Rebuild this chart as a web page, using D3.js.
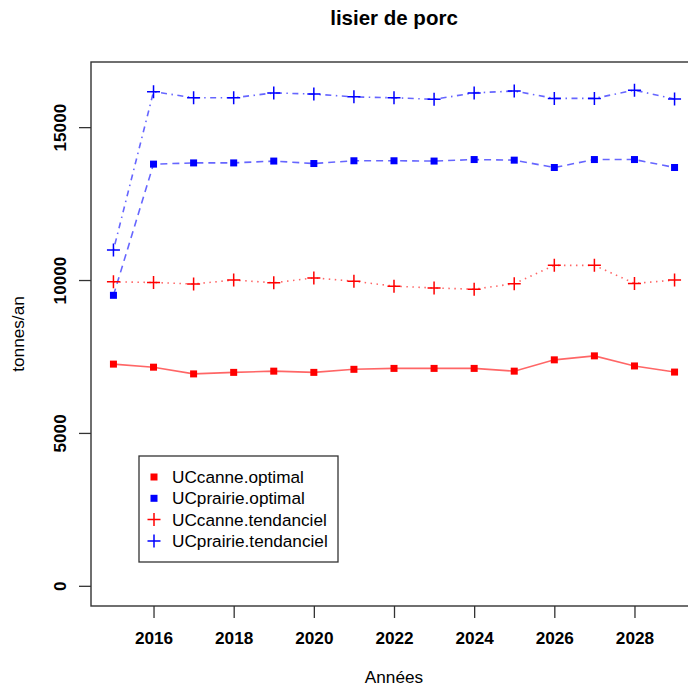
<!DOCTYPE html>
<html>
<head>
<meta charset="utf-8">
<script src="https://cdn.jsdelivr.net/npm/d3@7"></script>
<style>
  body { margin: 0; background: #fff; }
  svg { display: block; font-family: "Liberation Sans", Arial, sans-serif; }
</style>
</head>
<body>
<svg></svg>
<script>
var width = 688;
var height = 688;

// data
var years = [2015, 2016, 2017, 2018, 2019, 2020, 2021, 2022, 2023, 2024, 2025, 2026, 2027, 2028, 2029];
var canneOptimal = [7250, 7150, 6930, 6980, 7020, 6980, 7080, 7110, 7110, 7110, 7020, 7390, 7520, 7190, 6990];
var prairieOptimal = [9500, 13790, 13830, 13830, 13890, 13810, 13900, 13900, 13890, 13940, 13920, 13680, 13940, 13940, 13680];
var canneTendanciel = [9940, 9920, 9870, 10000, 9910, 10070, 9960, 9800, 9740, 9700, 9880, 10480, 10480, 9890, 10000];
var prairieTendanciel = [10980, 16160, 15960, 15960, 16120, 16080, 15990, 15960, 15910, 16120, 16180, 15940, 15940, 16210, 15920];

var xTicks = [2016, 2018, 2020, 2022, 2024, 2026, 2028];
var yTicks = [0, 5000, 10000, 15000];

var seriesNames = ["UCcanne.optimal", "UCprairie.optimal", "UCcanne.tendanciel", "UCprairie.tendanciel"];
var seriesValues = [canneOptimal, prairieOptimal, canneTendanciel, prairieTendanciel];
var seriesColors = ["#ff0000", "#0000ff", "#ff0000", "#0000ff"];
var seriesShapes = ["square", "square", "plus", "plus"];
var seriesDash = [null, "7,5", "1.5,4.5", "1.5,4.5,6,4.5"];

var box = {left: 91, right: 697, top: 62, bottom: 606};

var x = d3.scaleLinear()
	.domain([2014.44, 2029.56])
	.range([box.left, box.right]);

var y = d3.scaleLinear()
	.domain([-660, 17130])
	.range([box.bottom, box.top]);

var svg = d3.select('svg')
	.attr('width', width)
	.attr('height', height);

// title
svg.append('text')
	.attr('x', (box.left + box.right) / 2)
	.attr('y', 25)
	.attr('text-anchor', 'middle')
	.attr('font-size', '20.5px')
	.attr('font-weight', 'bold')
	.text('lisier de porc');

// axes
var xAxis = svg.append('g')
	.attr('transform', 'translate(0,' + box.bottom + ')')
	.call(d3.axisBottom(x).tickValues(xTicks).tickSize(12).tickFormat(d3.format('d')));

xAxis.select('.domain').remove();
xAxis.selectAll('.tick line').attr('stroke', '#333').attr('stroke-width', 1.3);
xAxis.selectAll('.tick text')
	.attr('y', 38)
	.attr('dy', 0)
	.attr('fill', '#000')
	.attr('font-size', '17.2px')
	.attr('font-weight', 'bold')
	.attr('font-family', '"Liberation Sans", Arial, sans-serif');

var yAxis = svg.append('g')
	.attr('transform', 'translate(' + box.left + ',0)')
	.call(d3.axisLeft(y).tickValues(yTicks).tickSize(12).tickFormat(d3.format('d')));

yAxis.select('.domain').remove();
yAxis.selectAll('.tick line').attr('stroke', '#333').attr('stroke-width', 1.3);
yAxis.selectAll('.tick text')
	.attr('transform', 'rotate(-90)')
	.attr('x', 0)
	.attr('y', -25)
	.attr('dy', 0)
	.attr('text-anchor', 'middle')
	.attr('fill', '#000')
	.attr('font-size', '17.2px')
	.attr('font-weight', 'bold')
	.attr('font-family', '"Liberation Sans", Arial, sans-serif');

// axis titles
svg.append('text')
	.attr('x', (box.left + box.right) / 2)
	.attr('y', 683)
	.attr('text-anchor', 'middle')
	.attr('font-size', '17.2px')
	.text('Années');

svg.append('text')
	.attr('transform', 'translate(24,' + (box.top + box.bottom) / 2 + ') rotate(-90)')
	.attr('text-anchor', 'middle')
	.attr('font-size', '17.2px')
	.text('tonnes/an');

// plot box
svg.append('rect')
	.attr('x', box.left)
	.attr('y', box.top)
	.attr('width', box.right - box.left)
	.attr('height', box.bottom - box.top)
	.attr('fill', 'none')
	.attr('stroke', '#333')
	.attr('stroke-width', 1.4);

var line = d3.line()
	.x((d, i) => x(years[i]))
	.y(d => y(d));

var drawMarker = function(g, shape, color, cx, cy){
	if (shape === 'square') {
		g.append('rect')
			.attr('x', cx - 3.5)
			.attr('y', cy - 3.5)
			.attr('width', 7)
			.attr('height', 7)
			.attr('fill', color);
	} else {
		g.append('path')
			.attr('d', 'M' + (cx - 6.5) + ',' + cy + 'H' + (cx + 6.5) + 'M' + cx + ',' + (cy - 6.5) + 'V' + (cy + 6.5))
			.attr('stroke', color)
			.attr('stroke-width', 1.5)
			.attr('fill', 'none');
	}
};

var chart = svg.append('g').classed('chart', true);

seriesValues.forEach((values, s) => {
	chart.append('path')
		.attr('d', line(values))
		.attr('fill', 'none')
		.attr('stroke', seriesColors[s])
		.attr('stroke-opacity', 0.6)
		.attr('stroke-width', 1.6)
		.attr('stroke-dasharray', seriesDash[s]);

	var marks = chart.append('g');
	values.forEach((v, i) => {
		drawMarker(marks, seriesShapes[s], seriesColors[s], x(years[i]), y(v));
	});
});

// legend
var legend = svg.append('g').classed('legend', true);

legend.append('rect')
	.attr('x', 139)
	.attr('y', 456)
	.attr('width', 199)
	.attr('height', 106)
	.attr('fill', '#fff')
	.attr('stroke', '#333')
	.attr('stroke-width', 1.3);

seriesNames.forEach((name, i) => {
	var rowY = 477 + i * 21.3;
	drawMarker(legend, seriesShapes[i], seriesColors[i], 154, rowY);
	legend.append('text')
		.attr('x', 172)
		.attr('y', rowY)
		.attr('dy', '0.35em')
		.attr('font-size', '17.2px')
		.text(name);
});
</script>
</body>
</html>
